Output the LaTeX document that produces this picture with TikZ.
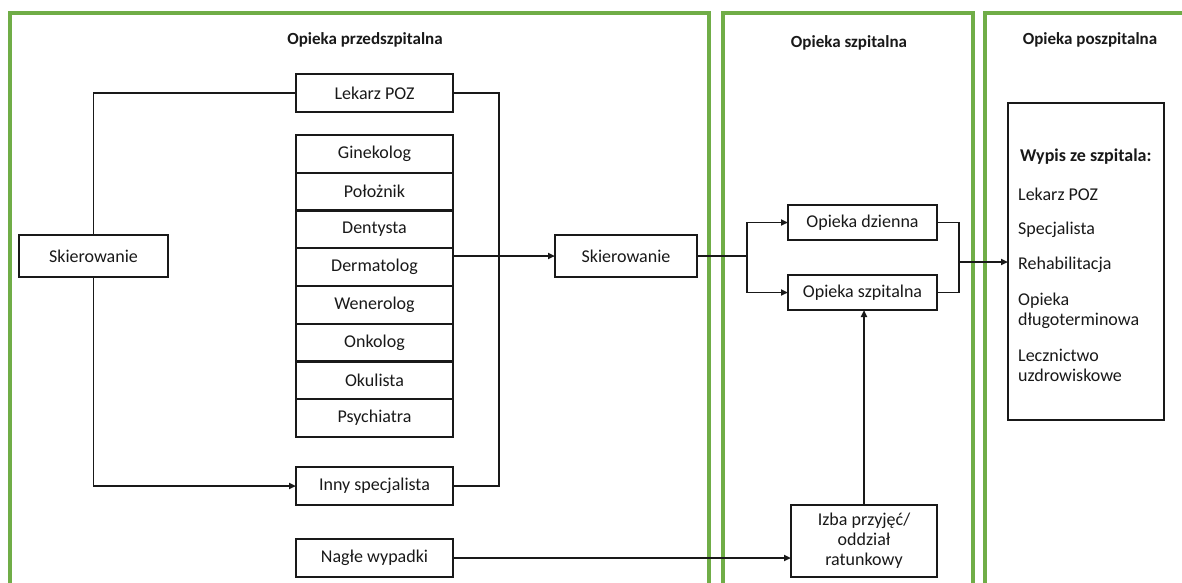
\documentclass[tikz,border=0pt]{standalone}
\usepackage{fontspec}
\setmainfont{Carlito}
\usetikzlibrary{arrows.meta,calc}
\definecolor{framegreen}{RGB}{112,173,71}
\definecolor{ink}{RGB}{25,25,25}
\tikzset{
  every node/.style={font=\fontsize{18}{20}\selectfont, text=ink},
  box/.style={draw=ink, line width=2.2pt, fill=white, inner sep=0pt, outer sep=0pt,
              minimum width=157pt, minimum height=37.75pt},
  frame/.style={draw=framegreen, line width=3.8pt},
  title/.style={font=\fontsize{17}{20}\selectfont\bfseries, anchor=base},
  item/.style={anchor=base west, inner sep=0pt},
  link/.style={draw=ink, line width=1.9pt},
  arr/.style={link, -{Triangle[length=7pt,width=6pt]}}
}
\begin{document}
\begin{tikzpicture}[x=1pt,y=-1pt]
\useasboundingbox (0,0) rectangle (1182,582);
\fill[white] (0,0) rectangle (1182,582);

% three care stages
\begin{scope}
  \clip (0,0) rectangle (1182,582);
  \draw[frame] (10,13) rectangle (709,620);
  \draw[frame] (723,13) rectangle (973,620);
  \draw[frame] (985,13) rectangle (1230,620);
\end{scope}

\node[title] (t1) at (365,44) {Opieka przedszpitalna};
\node[title] (t2) at (849,47) {Opieka szpitalna};
\node[title] (t3) at (1090,44) {Opieka poszpitalna};

% pre-hospital column
\node[box] (lek) at (374.5,93) {Lekarz POZ};
\node[box] (gin)  at (374.5,153.9) {Ginekolog};
\node[box] (pol)  at (374.5,191.6) {Położnik};
\node[box] (den)  at (374.5,229.4) {Dentysta};
\node[box] (derm) at (374.5,267.1) {Dermatolog};
\node[box] (wen)  at (374.5,304.9) {Wenerolog};
\node[box] (onk)  at (374.5,342.6) {Onkolog};
\node[box] (oku)  at (374.5,380.4) {Okulista};
\node[box] (psy)  at (374.5,418.1) {Psychiatra};
\node[box] (inny) at (374.5,486) {Inny specjalista};
\node[box] (nagle) at (374.5,558) {Nagłe wypadki};

\node[box, minimum width=149pt, minimum height=42pt] (skL) at (93.5,256) {Skierowanie};
\node[box, minimum width=142pt, minimum height=42pt] (skM) at (626,256) {Skierowanie};

% hospital column
\node[box, minimum width=149pt, minimum height=35pt] (dz) at (862.5,222.5) {Opieka dzienna};
\node[box, minimum width=149pt, minimum height=35pt] (sz) at (862.5,292.5) {Opieka szpitalna};
\node[box, minimum width=146pt, minimum height=72pt, align=center] (izba) at (864,541)
      {Izba przyjęć/\\oddział\\ratunkowy};

% post-hospital column
\node[box, minimum width=156pt, minimum height=317pt] (wyp) at (1086,261.5) {};
\node[item, font=\fontsize{18}{20}\selectfont\bfseries] (w0) at (1020,161) {Wypis ze szpitala:};
\node[item] (w1) at (1018,200) {Lekarz POZ};
\node[item] (w2) at (1018,234) {Specjalista};
\node[item] (w3) at (1018,269) {Rehabilitacja};
\node[item] (w4) at (1018,305) {Opieka};
\node[item] (w5) at (1018,325) {długoterminowa};
\node[item] (w6) at (1018,361) {Lecznictwo};
\node[item] (w7) at (1018,381) {uzdrowiskowe};

% junction points
\coordinate (bus) at (499,93);
\coordinate (split) at (747,256);
\coordinate (join) at (959,262);

% connectors
\draw[link] (skL.north) |- (lek.west);
\draw[arr] (skL.south) |- (inny.west);
\draw[link] (lek.east) -- (bus) |- (inny.east);
\draw[arr] (skM.west -| derm.east) -- (skM.west);
\draw[link] (skM.east) -- (split);
\draw[arr] (split) |- (dz.west);
\draw[arr] (split) |- (sz.west);
\draw[link] (dz.east) -| (join);
\draw[link] (sz.east) -| (join);
\draw[arr] (join) -- (join -| wyp.west);
\draw[arr] (izba.north) -- (izba.north |- sz.south);
\draw[arr] (nagle.east) -- (nagle.east -| izba.west);
\end{tikzpicture}
\end{document}
